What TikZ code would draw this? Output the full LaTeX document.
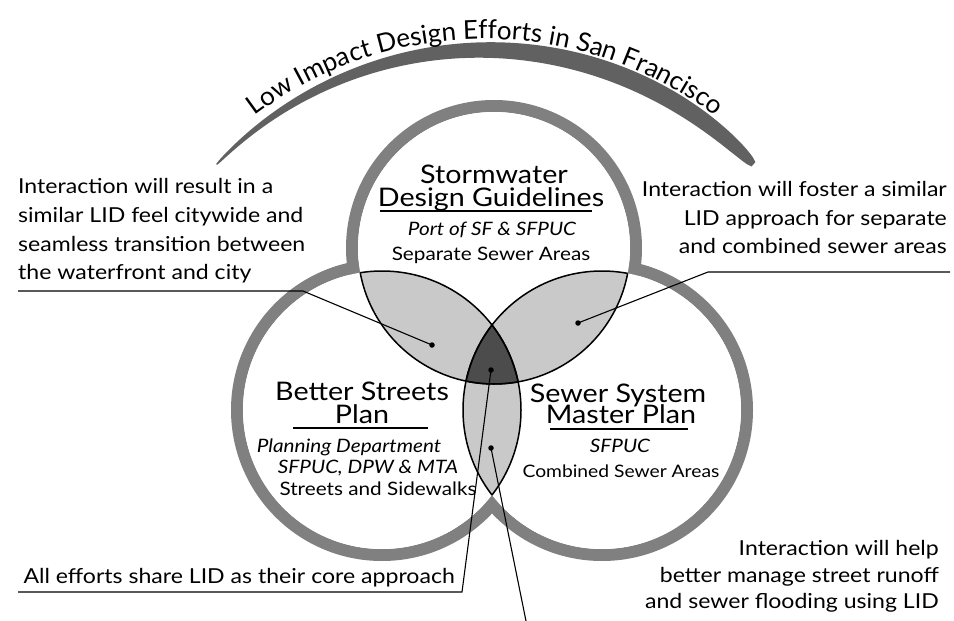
\documentclass[tikz,border=0pt]{standalone}
\usepackage{fontspec}
\setmainfont{Lato}[FakeStretch=1.12]
\newfontfamily\titlefont{Lato}
\usetikzlibrary{calc,decorations.text}
\definecolor{rimgray}{gray}{0.50}
\definecolor{lensgray}{gray}{0.79}
\definecolor{coregray}{gray}{0.30}
\definecolor{bandgray}{gray}{0.38}
\tikzset{
  rim/.style={draw=rimgray, line width=12pt},
  lens/.style={fill=lensgray},
  core/.style={fill=coregray},
  edge/.style={draw=black, line width=1.5pt},
  conn/.style={draw=black, line width=1.1pt},
  uline/.style={draw=black, line width=1.3pt},
  dot/.style={circle, fill=black, inner sep=0pt, minimum size=5.5pt},
  body/.style={font=\fontsize{20.6}{28}\selectfont, inner sep=0pt},
  ctitle/.style={font=\fontsize{25.6}{25}\selectfont, inner sep=0pt, anchor=base},
  csub/.style={font=\fontsize{18.5}{19}\selectfont, inner sep=0pt, anchor=base},
  csubit/.style={font=\fontsize{18.5}{19}\selectfont\itshape, inner sep=0pt, anchor=base},
}
\newcommand{\bandw}{(0.5*(6+19*\s)*pow(sin(180*\s),0.3))}
\begin{document}
\begin{tikzpicture}[x=1pt,y=-1pt]
\useasboundingbox (0,0) rectangle (954,621);
\fill[white] (0,0) rectangle (954,621);

% ---- title band
\fill[bandgray]
  plot[domain=0.002:0.998, samples=120, variable=\s]
    ({485+(372+\bandw)*cos(136.4-92.8*\s)}, {422-(372+\bandw)*sin(136.4-92.8*\s)})
  -- plot[domain=0.998:0.002, samples=120, variable=\s]
    ({485+(372-\bandw)*cos(136.4-92.8*\s)}, {422-(372-\bandw)*sin(136.4-92.8*\s)})
  -- cycle;
\coordinate (AC) at (485,422);
\path[decorate, decoration={text along path, text align=center,
  text={|\titlefont\fontsize{26}{26}\selectfont|Low Impact Design Efforts in San Francisco}}]
  ($(AC)+(-150:383)$) arc[start angle=-150, end angle=-30, radius=383];

% ---- circles
\coordinate (T) at (494,248);
\coordinate (L) at (382,410);
\coordinate (R) at (602,410);
\draw[rim] (T) circle[radius=142];
\draw[rim] (L) circle[radius=145];
\draw[rim] (R) circle[radius=145];
\fill[white] (T) circle[radius=136];
\fill[white] (L) circle[radius=139];
\fill[white] (R) circle[radius=139];
\begin{scope}
  \clip (T) circle[radius=136];
  \fill[lens] (L) circle[radius=139];
  \fill[lens] (R) circle[radius=139];
\end{scope}
\begin{scope}
  \clip (L) circle[radius=139];
  \fill[lens] (R) circle[radius=139];
\end{scope}
\begin{scope}
  \clip (T) circle[radius=136];
  \clip (L) circle[radius=139];
  \fill[core] (R) circle[radius=139];
\end{scope}
\begin{scope}
  \clip (T) circle[radius=136];
  \draw[edge] (L) circle[radius=139];
  \draw[edge] (R) circle[radius=139];
\end{scope}
\begin{scope}
  \clip (L) circle[radius=139];
  \draw[edge] (T) circle[radius=136];
  \draw[edge] (R) circle[radius=139];
\end{scope}
\begin{scope}
  \clip (R) circle[radius=139];
  \draw[edge] (T) circle[radius=136];
  \draw[edge] (L) circle[radius=139];
\end{scope}

% ---- circle texts
\node[ctitle] (t1) at (494,183) {Stormwater};
\node[ctitle] (t2) at (491,206) {Design Guidelines};
\draw[uline] (380,211) -- (592,211);
\node[csubit] (t3) at (492,235) {Port of SF \& SFPUC};
\node[csub] (t4) at (491,260) {Separate Sewer Areas};

\node[ctitle] (b1) at (362,400) {Better Streets};
\node[ctitle] (b2) at (362,423) {Plan};
\draw[uline] (293,428) -- (428,428);
\node[csubit] (b3) at (349,452) {Planning Department};
\node[csubit] (b4) at (368,473) {SFPUC, DPW \& MTA};
\node[csub] (b5) at (378,495) {Streets and Sidewalks};

\node[ctitle] (s1) at (618,402) {Sewer System};
\node[ctitle] (s2) at (621,423) {Master Plan};
\draw[uline] (550,429) -- (688,429);
\node[csubit] (s3) at (620,452) {SFPUC};
\node[csub, font=\fontsize{17.2}{19}\selectfont] (s4) at (621,477) {Combined Sewer Areas};

% ---- side texts
\node[body, anchor=base west] (l1) at (18,193) {Interaction will result in a};
\node[body, anchor=base west] (l2) at (18,222) {similar LID feel citywide and};
\node[body, anchor=base west] (l3) at (18,251) {seamless transition between};
\node[body, anchor=base west] (l4) at (18,279) {the waterfront and city};

\node[body, anchor=base east] (r1) at (947,196) {Interaction will foster a similar};
\node[body, anchor=base east] (r2) at (947,225) {LID approach for separate};
\node[body, anchor=base east] (r3) at (947,253) {and combined sewer areas};

\node[body, anchor=base east] (a1) at (455,583) {All efforts share LID as their core approach};

\node[body, anchor=base east] (h1) at (939,555) {Interaction will help};
\node[body, anchor=base east] (h2) at (939,582) {better manage street runoff};
\node[body, anchor=base east] (h3) at (939,608) {and sewer flooding using LID};

% ---- dots and connectors
\node[dot] (d1) at (432,345) {};
\node[dot] (d2) at (578,323) {};
\node[dot] (d3) at (491,370) {};
\node[dot] (d4) at (491,448) {};

\coordinate (u1a) at (18,291);
\coordinate (u1b) at (303,291);
\draw[conn] (u1a) -- (u1b) -- (d1.center);

\coordinate (u2a) at (950,272);
\coordinate (u2b) at (708,272);
\draw[conn] (u2a) -- (u2b) -- (d2.center);

\coordinate (u3a) at (18,592);
\coordinate (u3b) at (462,592);
\draw[conn] (u3a) -- (u3b) -- (d3.center);

\coordinate (u4) at (526,621);
\draw[conn] (d4.center) -- (u4);
\end{tikzpicture}
\end{document}
